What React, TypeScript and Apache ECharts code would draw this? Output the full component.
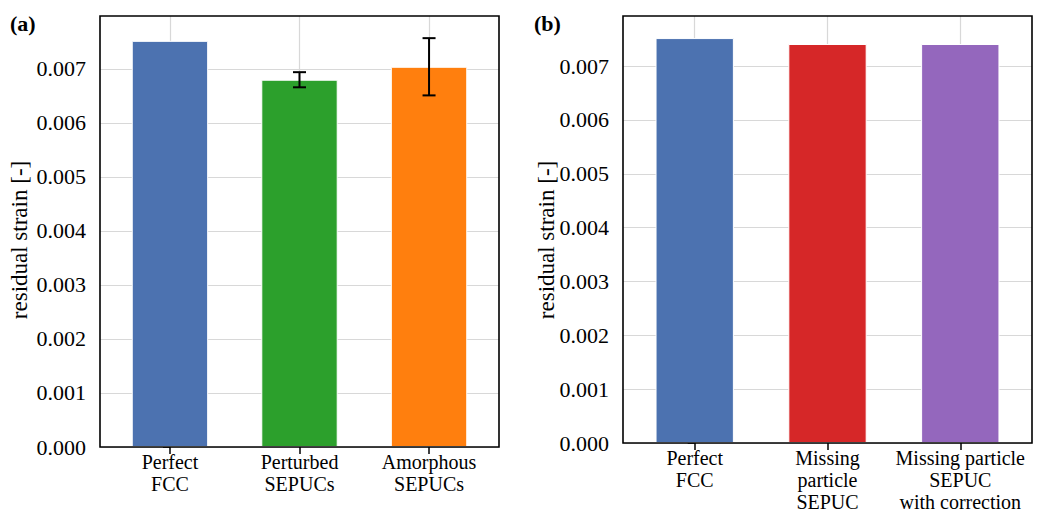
import React, { useEffect, useRef } from 'react';
import * as echarts from 'echarts';

// ---- data ----
const categoriesA = ['Perfect\nFCC', 'Perturbed\nSEPUCs', 'Amorphous\nSEPUCs'];
const valuesA = [0.00752, 0.0068, 0.00704];
const errorsA = [0, 0.00014, 0.00053];
const colorsA = ['#4c72b0', '#2ca02c', '#ff7f0e'];

const categoriesB = ['Perfect\nFCC', 'Missing\nparticle\nSEPUC', 'Missing particle\nSEPUC\nwith correction'];
const valuesB = [0.00752, 0.00741, 0.00741];
const colorsB = ['#4c72b0', '#d62728', '#9467bd'];

const yTicks = [0, 0.001, 0.002, 0.003, 0.004, 0.005, 0.006, 0.007];
const xPositions = [0, 1, 2];
const yMaxA = 0.00798;
const yMaxB = 0.00793;
const yAxisTitle = 'residual strain [-]';

const FONT = 'Liberation Serif';
const W = 1047;
const H = 519;
const gridA = { left: 100, top: 16, width: 399, height: 431 };
const gridB = { left: 623, top: 16, width: 409, height: 427 };

function makeAxes(gridIndex: number, cats: string[], yMax: number) {
  const xAxis = {
    type: 'value',
    gridIndex,
    min: -0.54,
    max: 2.54,
    axisLine: { show: false },
    axisTick: { show: true, customValues: xPositions, length: 7, lineStyle: { color: '#000', width: 1.5 } },
    axisLabel: {
      customValues: xPositions,
      formatter: (v: number) => cats[Math.round(v)] ?? '',
      fontFamily: FONT,
      fontSize: 20,
      lineHeight: 22,
      color: '#000',
      margin: 4,
    },
    splitLine: { show: true, lineStyle: { color: '#d8d8d8', width: 1.2 } },
  };
  const yAxis = {
    type: 'value',
    gridIndex,
    min: 0,
    max: yMax,
    axisLine: { show: false },
    axisTick: { show: true, customValues: yTicks, length: 7, lineStyle: { color: '#000', width: 1.5 } },
    axisLabel: {
      customValues: yTicks,
      formatter: (v: number) => v.toFixed(3),
      fontFamily: FONT,
      fontSize: 22,
      color: '#000',
      margin: 14,
    },
    splitLine: { show: true, lineStyle: { color: '#d8d8d8', width: 1.2 } },
  };
  return { xAxis, yAxis };
}

function barSeries(idx: number, values: number[], colors: string[]) {
  return {
    type: 'bar',
    xAxisIndex: idx,
    yAxisIndex: idx,
    barWidth: '59%',
    data: values.map((v, i) => ({
      value: [xPositions[i], v],
      itemStyle: { color: colors[i], borderColor: '#ffffff', borderWidth: 1 },
    })),
    z: 2,
  };
}

function errorSeries(idx: number, values: number[], errors: number[]) {
  const data = values
    .map((v, i) => [xPositions[i], v - errors[i], v + errors[i], errors[i]])
    .filter((d) => d[3] > 0);
  return {
    type: 'custom',
    xAxisIndex: idx,
    yAxisIndex: idx,
    z: 4,
    data,
    renderItem: (params: any, api: any) => {
      const x = api.value(0);
      const top = api.coord([x, api.value(2)]);
      const bot = api.coord([x, api.value(1)]);
      const cw = 6.5;
      const style = { stroke: '#000', lineWidth: 2 };
      return {
        type: 'group',
        children: [
          { type: 'line', shape: { x1: top[0], y1: top[1], x2: bot[0], y2: bot[1] }, style },
          { type: 'line', shape: { x1: top[0] - cw, y1: top[1], x2: top[0] + cw, y2: top[1] }, style },
          { type: 'line', shape: { x1: bot[0] - cw, y1: bot[1], x2: bot[0] + cw, y2: bot[1] }, style },
        ],
      };
    },
  };
}

export default function App() {
  const ref = useRef<HTMLDivElement>(null);
  useEffect(() => {
    if (!ref.current) return;
    const chart = echarts.init(ref.current, null, { renderer: 'svg' });
    const a = makeAxes(0, categoriesA, yMaxA);
    const b = makeAxes(1, categoriesB, yMaxB);
    const frame = (g: any) => ({
      type: 'rect',
      z: 10,
      shape: { x: g.left, y: g.top, width: g.width, height: g.height },
      style: { fill: 'none', stroke: '#000', lineWidth: 1.6 },
      silent: true,
    });
    chart.setOption({
      animation: false,
      backgroundColor: '#ffffff',
      textStyle: { fontFamily: FONT },
      grid: [
        { ...gridA, containLabel: false },
        { ...gridB, containLabel: false },
      ],
      xAxis: [a.xAxis, b.xAxis],
      yAxis: [a.yAxis, b.yAxis],
      series: [
        barSeries(0, valuesA, colorsA),
        errorSeries(0, valuesA, errorsA),
        barSeries(1, valuesB, colorsB),
      ],
      graphic: [
        frame(gridA),
        frame(gridB),
        {
          type: 'text',
          x: 10,
          y: 23,
          z: 10,
          style: { text: '(a)', fontFamily: FONT, fontSize: 22, fontWeight: 'bold', fill: '#000', align: 'left', verticalAlign: 'middle' },
        },
        {
          type: 'text',
          x: 534,
          y: 23,
          z: 10,
          style: { text: '(b)', fontFamily: FONT, fontSize: 22, fontWeight: 'bold', fill: '#000', align: 'left', verticalAlign: 'middle' },
        },
        {
          type: 'text',
          x: 19,
          y: 240,
          rotation: Math.PI / 2,
          z: 10,
          style: { text: yAxisTitle, fontFamily: FONT, fontSize: 23, fill: '#000', align: 'center', verticalAlign: 'middle' },
        },
        {
          type: 'text',
          x: 546,
          y: 240,
          rotation: Math.PI / 2,
          z: 10,
          style: { text: yAxisTitle, fontFamily: FONT, fontSize: 23, fill: '#000', align: 'center', verticalAlign: 'middle' },
        },
      ],
    });
    return () => chart.dispose();
  }, []);
  return (
    <div
      ref={ref}
      style={{ position: 'absolute', left: 0, top: 0, width: W, height: H, background: '#fff' }}
    />
  );
}
